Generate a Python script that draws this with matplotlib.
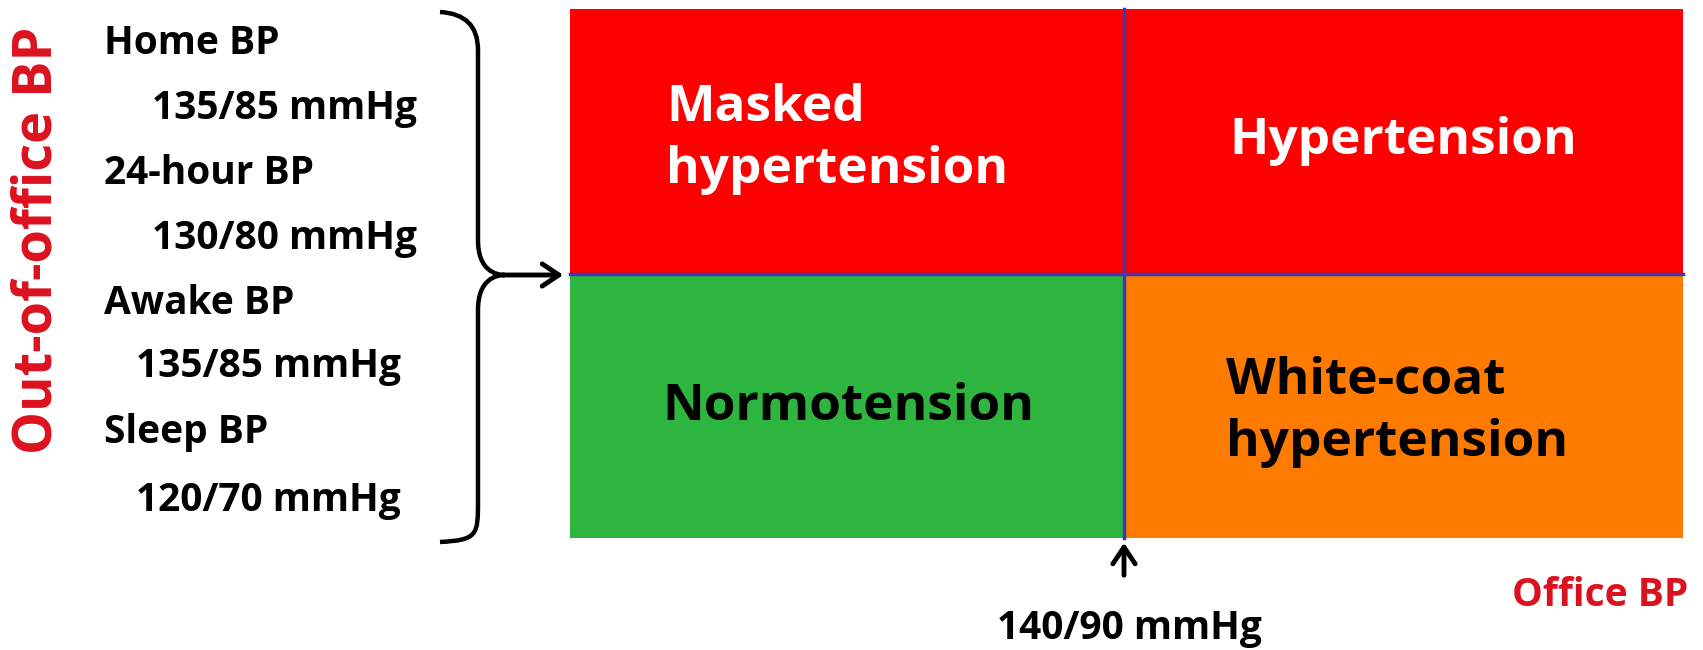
import matplotlib.pyplot as plt
from matplotlib.patches import Rectangle, FancyArrowPatch, PathPatch
from matplotlib.path import Path

# categorias del diagrama (cuadrantes)
cuadrantes = ["Masked\nhypertension", "Hypertension", "Normotension", "White-coat\nhypertension"]
colores = ["#fe0000", "#fe0000", "#2db53f", "#fe7b00"]
color_texto = ["white", "white", "black", "black"]
alineacion = ["left", "center", "center", "left"]

# umbrales de presion fuera de consultorio
mediciones = ["Home BP", "24-hour BP", "Awake BP", "Sleep BP"]
umbrales = ["135/85 mmHg", "130/80 mmHg", "135/85 mmHg", "120/70 mmHg"]
umbral_consultorio = "140/90 mmHg"

W, H = 1703, 650
fig = plt.figure(figsize=(W / 100, H / 100), dpi=100)
ax = fig.add_axes([0, 0, 1, 1])
ax.set_xlim(0, W)
ax.set_ylim(H, 0)
ax.axis("off")

fuente = "Open Sans"
peso = "bold"
rojo_txt = "#dc111f"

# grilla 2x2
x0, x1, x2 = 570, 1124, 1683
y0, y1, y2 = 9, 274, 538
celdas = [(x0, y0, x1, y1), (x1, y0, x2, y1), (x0, y1, x1, y2), (x1, y1, x2, y2)]
pos_txt = [(666, 139), (1403, 141), (848, 407), (1226, 412)]
for (a, b, c, d), col, nombre, tc, al, (tx, ty) in zip(celdas, colores, cuadrantes,
                                                       color_texto, alineacion, pos_txt):
    ax.add_patch(Rectangle((a, b), c - a, d - b, facecolor=col, edgecolor="none"))
    ax.text(tx, ty, nombre, color=tc, ha=al, va="center", fontsize=37,
            fontfamily=fuente, fontweight=peso, linespacing=1.32)

# divisores azules
ax.plot([x0, x2], [y1, y1], color="#3a3ab4", lw=2.5)
ax.plot([x1, x1], [y0, y2], color="#3a3ab4", lw=2.5)

# textos de la izquierda
y_txt = [43, 174, 304, 432]
y_val = [109, 239, 367, 500]
x_val = [152, 152, 136, 136]
for m, u, ya, yb, xv in zip(mediciones, umbrales, y_txt, y_val, x_val):
    ax.text(104, ya, m, ha="left", va="center", fontsize=28, fontfamily=fuente,
            fontweight=peso)
    ax.text(xv, yb, u, ha="left", va="center", fontsize=28, fontfamily=fuente,
            fontweight=peso)

ax.text(38, 240, "Out-of-office BP", color=rojo_txt, rotation=90, ha="center",
        va="center", fontsize=39, fontfamily=fuente, fontweight=peso)

# llave
verts = [(440, 12), (478, 14), (478, 50), (478, 90),
         (478, 240),
         (478, 270), (495, 275), (505, 275),
         (495, 275), (478, 280), (478, 310),
         (478, 500),
         (478, 535), (478, 540), (440, 542)]
codes = [Path.MOVETO, Path.CURVE3, Path.CURVE3, Path.LINETO,
         Path.LINETO,
         Path.CURVE4, Path.CURVE4, Path.CURVE4,
         Path.CURVE4, Path.CURVE4, Path.CURVE4,
         Path.LINETO,
         Path.CURVE4, Path.CURVE4, Path.CURVE4]
ax.add_patch(PathPatch(Path(verts, codes), facecolor="none", edgecolor="black", lw=3.2))
ax.add_patch(FancyArrowPatch((500, 275), (566, 275), arrowstyle="->,head_length=12,head_width=8",
                             lw=3.5, color="black", mutation_scale=1))

# flecha de umbral de consultorio
ax.add_patch(FancyArrowPatch((x1, 578), (x1, 540), arrowstyle="->,head_length=12,head_width=8",
                             lw=3.5, color="black", mutation_scale=1))
ax.text(x1 + 5, 628, umbral_consultorio, ha="center", va="center", fontsize=28,
        fontfamily=fuente, fontweight=peso)
ax.text(1688, 596, "Office BP", color=rojo_txt, ha="right", va="center", fontsize=28,
        fontfamily=fuente, fontweight=peso)

fig.savefig("out.png", dpi=100, facecolor="white")
